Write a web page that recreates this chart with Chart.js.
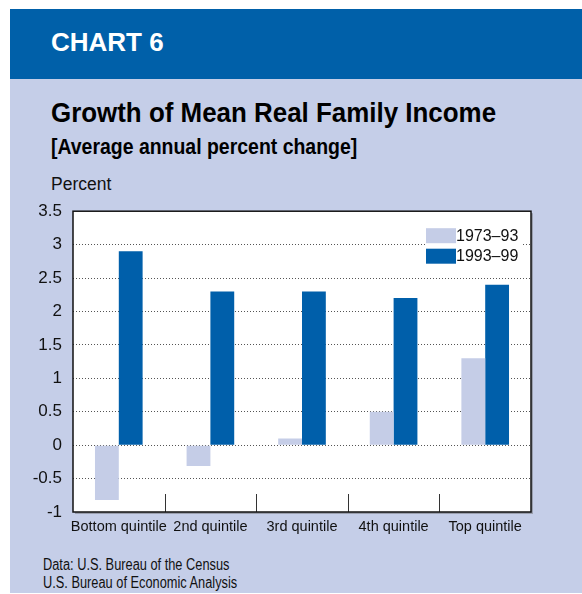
<!DOCTYPE html>
<html>
<head>
<meta charset="utf-8">
<script src="https://cdn.jsdelivr.net/npm/chart.js@4.4.3/dist/chart.umd.min.js"></script>
<style>
  html, body { margin: 0; padding: 0; background: #ffffff; }
  body { width: 582px; height: 594px; position: relative; overflow: hidden; font-family: "Liberation Sans", Arial, sans-serif; }
  .panel { position: absolute; left: 10px; top: 79px; width: 572px; height: 514px; background: #c5cee8; }
  .header { position: absolute; left: 10px; top: 9px; width: 572px; height: 70px; background: #0060a9; }
  .txt { position: absolute; line-height: 1; white-space: nowrap; color: #000; transform-origin: 0 0; }
  .chart-no { left: 51px; top: 29px; font-size: 26px; font-weight: bold; color: #ffffff; }
  .title { left: 51px; top: 100px; font-size: 27px; font-weight: bold; transform: scaleX(0.96); }
  .subtitle { left: 51px; top: 135.5px; font-size: 22px; font-weight: bold; transform: scaleX(0.884); }
  .unit { left: 51px; top: 176px; font-size: 17.5px; color: #111; }
  .source { left: 43px; font-size: 16px; color: #111; transform: scaleX(0.8); }
  #chart-wrap { position: absolute; left: 0; top: 190px; width: 582px; height: 360px; }
</style>
</head>
<body>
<div class="panel"></div>
<div class="header"></div>
<div class="txt chart-no">CHART 6</div>
<div class="txt title">Growth of Mean Real Family Income</div>
<div class="txt subtitle">[Average annual percent change]</div>
<div class="txt unit">Percent</div>
<div class="txt source" style="top:556.5px">Data: U.S. Bureau of the Census</div>
<div class="txt source" style="top:574.5px">U.S. Bureau of Economic Analysis</div>
<div id="chart-wrap"><canvas id="income-chart" width="582" height="360"></canvas></div>
<script>
const categories = ["Bottom quintile", "2nd quintile", "3rd quintile", "4th quintile", "Top quintile"];
const seriesLabels = ["1973\u201393", "1993\u201399"];
const growth1973to93 = [-0.82, -0.31, 0.1, 0.5, 1.3];
const growth1993to99 = [2.9, 2.3, 2.3, 2.2, 2.4];
const yTickMin = -1;
const yTickMax = 3.5;
const yTickStep = 0.5;

const lightBlue = "#c5cde7";
const darkBlue = "#005faa";
const fontFamily = '"Liberation Sans", Arial, sans-serif';

// white plot area (with a faint drop shadow) behind the grid
const plotBackground = {
  id: "plotBackground",
  beforeDraw(chart) {
    const { ctx, chartArea } = chart;
    ctx.save();
    ctx.fillStyle = "#9a9fae";
    ctx.fillRect(chartArea.left + 2, chartArea.top + 2, chartArea.width, chartArea.height);
    ctx.fillStyle = "#ffffff";
    ctx.fillRect(chartArea.left, chartArea.top, chartArea.width, chartArea.height);
    ctx.restore();
  },
};

// frame, category separators and the boxed legend
const frameAndLegend = {
  id: "frameAndLegend",
  afterDatasetsDraw(chart) {
    const { ctx, chartArea, scales } = chart;
    const x = scales.x;
    ctx.save();

    ctx.strokeStyle = "#333333";
    ctx.lineWidth = 1;
    for (let i = 1; i < categories.length; i++) {
      const px = Math.round((x.getPixelForValue(i - 1) + x.getPixelForValue(i)) / 2) + 0.5;
      ctx.beginPath();
      ctx.moveTo(px, chartArea.bottom);
      ctx.lineTo(px, chartArea.bottom - 18);
      ctx.stroke();
    }

    const left = chartArea.right - 105;
    const top = chartArea.top + 17;
    ctx.fillStyle = "#ffffff";
    ctx.fillRect(left, top, 96, 36);
    ctx.font = `16px ${fontFamily}`;
    ctx.textBaseline = "middle";
    chart.data.datasets.forEach((ds, i) => {
      const rowTop = top + i * 20.5;
      ctx.fillStyle = ds.backgroundColor;
      ctx.fillRect(left, rowTop, 30, 15);
      ctx.fillStyle = "#111111";
      ctx.fillText(ds.label, left + 30, rowTop + 8);
    });

    ctx.strokeStyle = "#111111";
    ctx.lineWidth = 1.5;
    ctx.strokeRect(chartArea.left, chartArea.top, chartArea.width, chartArea.height);
    ctx.restore();
  },
};

new Chart(document.getElementById("income-chart"), {
  type: "bar",
  data: {
    labels: categories,
    datasets: [
      {
        label: seriesLabels[0],
        data: growth1973to93,
        backgroundColor: lightBlue,
        borderWidth: 0,
        categoryPercentage: 0.52,
        barPercentage: 1.0,
      },
      {
        label: seriesLabels[1],
        data: growth1993to99,
        backgroundColor: darkBlue,
        borderWidth: 0,
        categoryPercentage: 0.52,
        barPercentage: 1.0,
      },
    ],
  },
  options: {
    responsive: false,
    animation: false,
    layout: { padding: { left: 0, top: 18, right: 51, bottom: 0 } },
    scales: {
      x: {
        grid: { display: false, drawTicks: false },
        border: { display: false },
        ticks: {
          color: "#111111",
          padding: 6,
          maxRotation: 0,
          autoSkip: false,
          font: { family: fontFamily, size: 14.5 },
        },
        afterFit(scale) {
          scale.height = 38;
        },
      },
      y: {
        min: yTickMin,
        max: yTickMax,
        border: { display: false, dash: [1, 2] },
        grid: {
          drawTicks: false,
          color(context) {
            const v = context.tick && context.tick.value;
            return v === yTickMin || v === yTickMax ? "rgba(0,0,0,0)" : "#555555";
          },
          lineWidth: 1,
        },
        ticks: {
          stepSize: yTickStep,
          color: "#111111",
          padding: 11,
          font: { family: fontFamily, size: 17 },
          callback(value) {
            return String(value);
          },
        },
        afterFit(scale) {
          scale.width = 73;
        },
      },
    },
    plugins: {
      legend: { display: false },
      tooltip: { enabled: false },
    },
  },
  plugins: [plotBackground, frameAndLegend],
});
</script>
</body>
</html>
